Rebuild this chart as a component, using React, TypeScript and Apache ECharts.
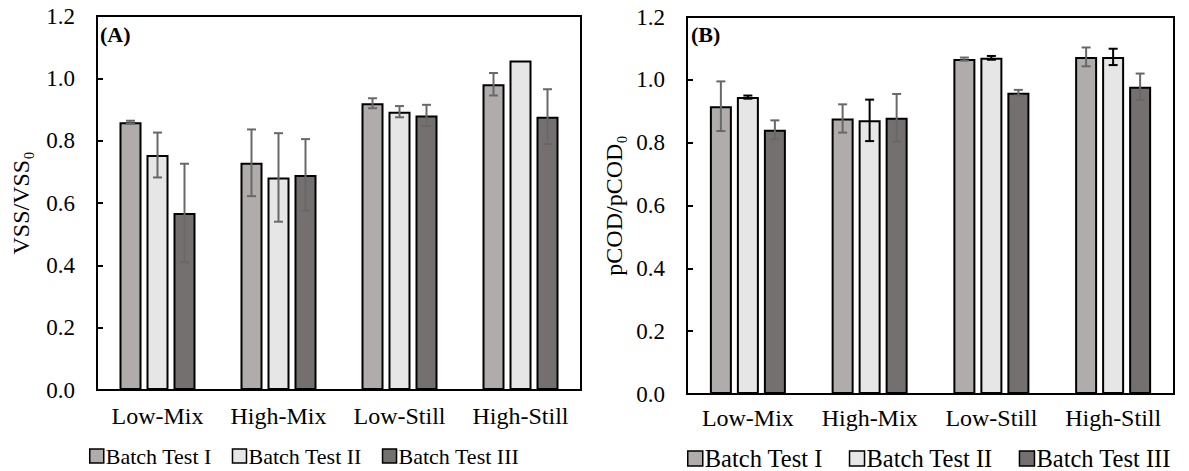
import React, { useEffect, useRef } from "react";
import * as echarts from "echarts";

const categories = ["Low-Mix", "High-Mix", "Low-Still", "High-Still"];
const seriesNames = ["Batch Test I", "Batch Test II", "Batch Test III"];
const yTicks = [0, 0.2, 0.4, 0.6, 0.8, 1.0, 1.2];

// Panel A: VSS/VSS0
const vssI = [0.859, 0.729, 0.92, 0.981];
const vssII = [0.754, 0.682, 0.893, 1.057];
const vssIII = [0.568, 0.69, 0.881, 0.877];
const vssErrI = [0.005, 0.107, 0.016, 0.036];
const vssErrII = [0.072, 0.142, 0.018, 0];
const vssErrIII = [0.158, 0.115, 0.034, 0.088];

// Panel B: pCOD/pCOD0
const codI = [0.916, 0.877, 1.066, 1.073];
const codII = [0.945, 0.871, 1.07, 1.073];
const codIII = [0.841, 0.879, 0.959, 0.978];
const codErrI = [0.079, 0.045, 0.005, 0.03];
const codErrII = [0.005, 0.066, 0.006, 0.026];
const codErrIII = [0.03, 0.076, 0.009, 0.042];

const FONT = "'Liberation Serif', 'Times New Roman', serif";
const barColors = ["#b0acab", "#e6e6e6", "#757070"];
const BAR_W = 22;
const BAR_GAP = 5;
const offsets = [-(BAR_W + BAR_GAP), 0, BAR_W + BAR_GAP];

function errSeries(
  gridIdx: number,
  values: number[],
  errs: number[],
  offset: number,
  color: string
) {
  return {
    type: "custom",
    xAxisIndex: gridIdx,
    yAxisIndex: gridIdx,
    z: 10,
    silent: true,
    data: values.map((v, i) => [i, v, errs[i]]),
    encode: { x: 0, y: 1 },
    renderItem: (params: any, api: any) => {
      const idx = api.value(0);
      const v = api.value(1);
      const e = api.value(2);
      if (!e) return { type: "group", children: [] };
      const c = api.coord([idx, v]);
      const x = c[0] + offset;
      const yTop = api.coord([idx, v + e])[1];
      const yBot = api.coord([idx, v - e])[1];
      const cap = 4.5;
      const style = { stroke: color, lineWidth: 2 };
      return {
        type: "group",
        children: [
          { type: "line", shape: { x1: x, y1: yTop, x2: x, y2: yBot }, style },
          { type: "line", shape: { x1: x - cap, y1: yTop, x2: x + cap, y2: yTop }, style },
          { type: "line", shape: { x1: x - cap, y1: yBot, x2: x + cap, y2: yBot }, style },
        ],
      };
    },
  };
}

function barSeries(gridIdx: number, name: string, values: number[], color: string) {
  return {
    type: "bar",
    name,
    xAxisIndex: gridIdx,
    yAxisIndex: gridIdx,
    data: values,
    barWidth: BAR_W,
    barGap: (BAR_GAP / BAR_W) * 100 + "%",
    itemStyle: { color, borderColor: "#000", borderWidth: 2 },
  };
}

export default function App() {
  const ref = useRef<HTMLDivElement>(null);
  useEffect(() => {
    if (!ref.current) return;
    const chart = echarts.init(ref.current, null, { renderer: "svg" });
    const mkX = (gridIndex: number, fs: number, margin: number) => ({
      type: "category",
      gridIndex,
      data: categories,
      axisLine: { show: true, lineStyle: { color: "#000", width: 2 } },
      axisTick: { show: false },
      axisLabel: { color: "#000", fontFamily: FONT, fontSize: fs, margin, interval: 0, hideOverlap: false },
    });
    const mkY = (gridIndex: number, name: string, nameGap: number) => ({
      type: "value",
      gridIndex,
      min: 0,
      max: 1.2,
      interval: 0.2,
      name,
      nameLocation: "middle",
      nameGap,
      nameTextStyle: { color: "#000", fontFamily: FONT, fontSize: 24 },
      axisLine: { show: true, lineStyle: { color: "#000", width: 2 } },
      axisTick: { show: true, inside: true, length: 6, lineStyle: { color: "#000", width: 2 } },
      splitLine: { show: false },
      axisLabel: {
        color: "#000",
        fontFamily: FONT,
        fontSize: 23,
        margin: 22,
        formatter: (v: number) => (yTicks.some((t) => Math.abs(t - v) < 1e-9) ? v.toFixed(1) : ""),
      },
    });
    const option: any = {
      animation: false,
      backgroundColor: "#fff",
      grid: [
        { left: 97, top: 16, width: 484, height: 374, show: true, borderColor: "#000", borderWidth: 2, backgroundColor: "transparent" },
        { left: 687, top: 17, width: 487, height: 377, show: true, borderColor: "#000", borderWidth: 2, backgroundColor: "transparent" },
      ],
      xAxis: [mkX(0, 24, 14), mkX(1, 24, 12)],
      yAxis: [mkY(0, "VSS/VSS₀", 64), mkY(1, "pCOD/pCOD₀", 61)],
      legend: [
        {
          data: seriesNames,
          left: 84,
          top: 440,
          itemWidth: 14,
          itemHeight: 14,
          itemGap: 20,
          icon: "rect",
          textStyle: { color: "#000", fontFamily: FONT, fontSize: 22, padding: [0, 0, 0, -3] },
          itemStyle: { borderColor: "#000", borderWidth: 1.5 },
          selectedMode: false,
        },
        {
          data: seriesNames,
          left: 682,
          top: 441,
          itemWidth: 15,
          itemHeight: 15,
          itemGap: 26,
          icon: "rect",
          textStyle: { color: "#000", fontFamily: FONT, fontSize: 24.5, padding: [0, 0, 0, -3] },
          itemStyle: { borderColor: "#000", borderWidth: 1.5 },
          selectedMode: false,
        },
      ],
      graphic: [
        { type: "text", left: 100, top: 23, style: { text: "(A)", fontFamily: FONT, fontWeight: "bold", fontSize: 22, fill: "#000" } },
        { type: "text", left: 691, top: 23, style: { text: "(B)", fontFamily: FONT, fontWeight: "bold", fontSize: 22, fill: "#000" } },
      ],
      series: [
        barSeries(0, seriesNames[0], vssI, barColors[0]),
        barSeries(0, seriesNames[1], vssII, barColors[1]),
        barSeries(0, seriesNames[2], vssIII, barColors[2]),
        barSeries(1, seriesNames[0], codI, barColors[0]),
        barSeries(1, seriesNames[1], codII, barColors[1]),
        barSeries(1, seriesNames[2], codIII, barColors[2]),
        errSeries(0, vssI, vssErrI, offsets[0], "#686868"),
        errSeries(0, vssII, vssErrII, offsets[1], "#686868"),
        errSeries(0, vssIII, vssErrIII, offsets[2], "#686868"),
        errSeries(1, codI, codErrI, offsets[0], "#686868"),
        errSeries(1, codII, codErrII, offsets[1], "#000"),
        errSeries(1, codIII, codErrIII, offsets[2], "#686868"),
      ],
    };
    chart.setOption(option);
    return () => chart.dispose();
  }, []);
  return (
    <div
      ref={ref}
      style={{ position: "fixed", left: 0, top: 0, width: 1189, height: 471, background: "#fff" }}
    />
  );
}
